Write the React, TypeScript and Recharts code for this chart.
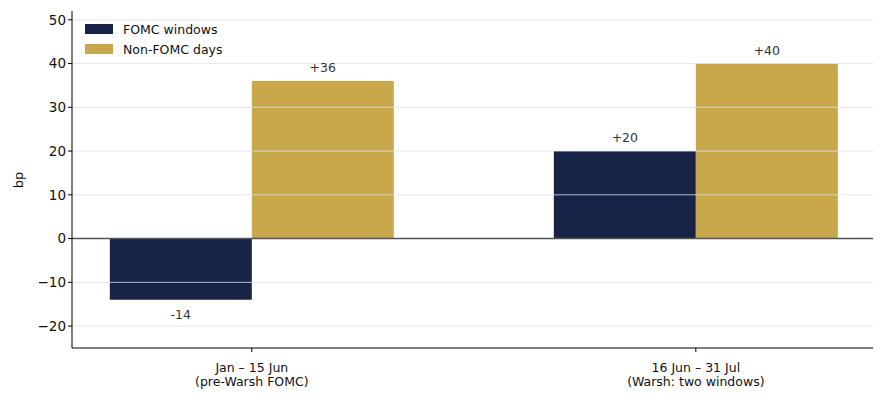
import React from 'react'
import { BarChart, Bar, XAxis, YAxis, ReferenceLine, LabelList } from 'recharts'

const FONT = 'DejaVu Sans, sans-serif'

const periods = ['Jan – 15 Jun', '16 Jun – 31 Jul']
const periodNotes = ['(pre-Warsh FOMC)', '(Warsh: two windows)']
const fomcWindows = [-14, 20]
const nonFomcDays = [36, 40]
const yTicks = [-20, -10, 0, 10, 20, 30, 40, 50]
const gridLevels = [-20, -10, 10, 20, 30, 40, 50]

const NAVY = '#172447'
const GOLD = '#c9a84c'

const data = periods.map((p, i) => ({
  x: i,
  fomc: fomcWindows[i],
  nonFomc: nonFomcDays[i],
}))

const fmtSigned = (v: number) => (v > 0 ? `+${v}` : `${v}`)

function ValueLabel({ x, y, width, height, value }: any) {
  const top = Math.min(y, y + height)
  const bottom = Math.max(y, y + height)
  const cx = x + width / 2
  const ty = value < 0 ? bottom + 19 : top - 9
  return (
    <text x={cx} y={ty} textAnchor="middle" fontSize={12.5} fill="#333" fontFamily={FONT}>
      {fmtSigned(value)}
    </text>
  )
}

function XTick({ x, y, payload }: any) {
  const i = payload.value
  return (
    <g>
      <text x={x} y={y + 18} textAnchor="middle" fontSize={12.5} fill="#111" fontFamily={FONT}>
        {periods[i]}
      </text>
      <text x={x} y={y + 32} textAnchor="middle" fontSize={12.5} fill="#111" fontFamily={FONT}>
        {periodNotes[i]}
      </text>
    </g>
  )
}

export default function App() {
  return (
    <div style={{ position: 'absolute', left: 0, top: 0, width: 886, height: 400, background: '#fff' }}>
      <BarChart
        width={886}
        height={400}
        data={data}
        margin={{ top: 11, right: 13, bottom: 0, left: 0 }}
        barGap={0}
        barSize={142}
      >
        <XAxis
          dataKey="x"
          type="number"
          height={52}
          domain={[-0.405, 1.399]}
          ticks={[0, 1]}
          tick={<XTick />}
          tickLine={{ stroke: '#000' }}
          tickSize={4}
          axisLine={{ stroke: '#000' }}
          allowDataOverflow
        />
        <YAxis
          width={72}
          domain={[-25, 52]}
          ticks={yTicks}
          interval={0}
          allowDataOverflow
          tickFormatter={(v: number) => String(v).replace('-', '\u2212')}
          tick={{ fontSize: 13.5, fill: '#111', fontFamily: FONT }}
          tickLine={{ stroke: '#000' }}
          tickSize={4}
          axisLine={{ stroke: '#000' }}
          label={{
            content: () => (
              <text x={18} y={180} transform="rotate(-90 18 180)" textAnchor="middle"
                dominantBaseline="central" fontSize={13} fill="#111" fontFamily={FONT}>
                bp
              </text>
            ),
          }}
        />
        <Bar dataKey="fomc" name="FOMC windows" fill={NAVY} isAnimationActive={false}>
          <LabelList dataKey="fomc" content={<ValueLabel />} />
        </Bar>
        <Bar dataKey="nonFomc" name="Non-FOMC days" fill={GOLD} isAnimationActive={false}>
          <LabelList dataKey="nonFomc" content={<ValueLabel />} />
        </Bar>
        {gridLevels.map((g) => (
          <ReferenceLine key={g} y={g} stroke="#dde2ec" strokeOpacity={0.8} strokeWidth={1} />
        ))}
        <ReferenceLine y={0} stroke="#555" strokeWidth={1.5} />
      </BarChart>
      <div style={{ position: 'absolute', left: 85, top: 19, fontFamily: FONT, fontSize: 12.5, color: '#111' }}>
        {[['FOMC windows', NAVY], ['Non-FOMC days', GOLD]].map(([name, color]) => (
          <div key={name} style={{ display: 'flex', alignItems: 'center', height: 20 }}>
            <span style={{ display: 'inline-block', width: 28, height: 10, background: color, marginRight: 10 }} />
            <span>{name}</span>
          </div>
        ))}
      </div>
    </div>
  )
}
